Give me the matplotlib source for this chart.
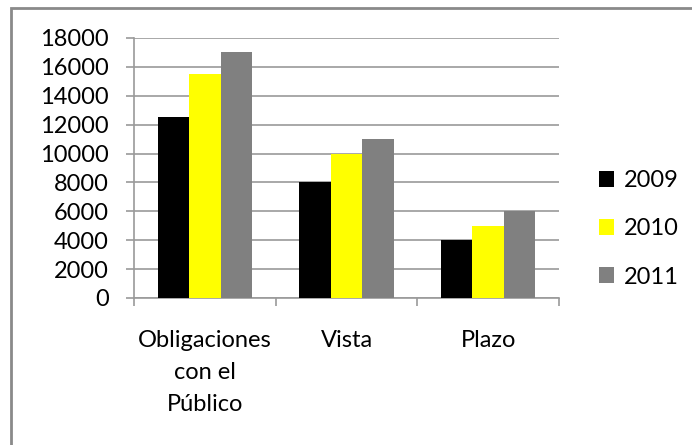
import numpy as np
import matplotlib.pyplot as plt
from matplotlib.patches import Rectangle

plt.rcParams['font.family'] = ['Lato', 'DejaVu Sans']

# deposit totals by category and year
categories = ['Obligaciones\ncon el\nPúblico', 'Vista', 'Plazo']
years = ['2009', '2010', '2011']
v2009 = [12500, 8000, 4000]
v2010 = [15500, 10000, 5000]
v2011 = [17000, 11000, 6000]
colors = ['#000000', '#ffff00', '#808080']

fig = plt.figure(figsize=(6.92, 4.45), dpi=100)
ax = fig.add_axes([134/692, 1-298/445, (559-134)/692, (298-38)/445])

x = np.arange(len(categories))
w = 0.222
for i, (vals, lab) in enumerate(zip([v2009, v2010, v2011], years)):
    ax.bar(x + (i-1)*w, vals, w, color=colors[i], label=lab, zorder=3)

ax.set_xlim(-0.5, 2.5)
ax.set_ylim(0, 18000)
ax.set_yticks(np.arange(0, 18001, 2000))
ax.grid(axis='y', color='#9a9a9a', linewidth=1.2, zorder=0)

# category boundaries carry the tick marks, labels sit on the centers
ax.set_xticks([-0.5, 0.5, 1.5, 2.5])
ax.set_xticklabels([])
ax.set_xticks(x, minor=True)
ax.set_xticklabels(categories, minor=True, fontsize=17, linespacing=1.65)
ax.tick_params(axis='x', which='minor', length=0, pad=23)
ax.tick_params(axis='x', which='major', length=6, color='#9a9a9a', width=1.2)
ax.tick_params(axis='y', length=6, color='#9a9a9a', width=1.2, labelsize=17, pad=12)

for s in ['top', 'right']:
    ax.spines[s].set_visible(False)
for s in ['left', 'bottom']:
    ax.spines[s].set_color('#9a9a9a')
    ax.spines[s].set_linewidth(1.2)

leg = fig.legend(loc='center left', bbox_to_anchor=(599/692, 1-229/445),
                 frameon=False, fontsize=17, handlelength=0.65, handleheight=0.65,
                 handletextpad=0.4, labelspacing=1.15, borderpad=0, borderaxespad=0)

# outer chart frame
fig.patches.append(Rectangle((11/692, -0.1), 1.1, 1-8/445+0.1, transform=fig.transFigure,
                             fill=False, edgecolor='#8a8a8a', linewidth=2))

fig.savefig('out.png', dpi=100)
